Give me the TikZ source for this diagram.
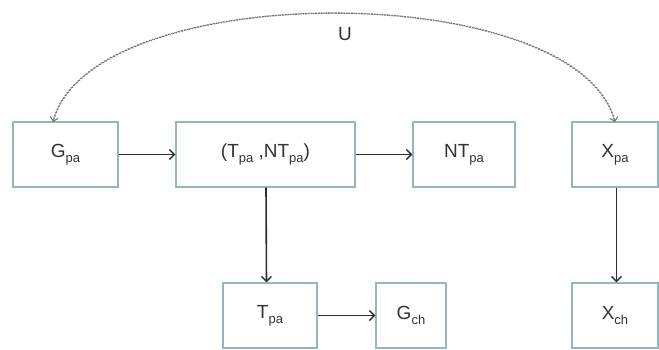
\documentclass[tikz,border=0pt]{standalone}
\usepackage{fontspec}
\setmainfont{Liberation Sans}
\usetikzlibrary{arrows.meta}
\definecolor{boxline}{RGB}{150,182,188}
\definecolor{arrowc}{RGB}{45,45,45}
\begin{document}
\begin{tikzpicture}[x=1pt,y=1pt,
  box/.style={draw=boxline, line width=1.4pt, fill=white, inner sep=0pt, font=\fontsize{19}{22}\selectfont, text=black!80},
  conn/.style={draw=arrowc, line width=1.6pt, -{Straight Barb[length=5pt,width=10pt,line width=1.4pt]}},
  dotc/.style={draw=black!55, line width=1.3pt, dotted, -{Straight Barb[length=4pt,width=8pt,line width=1pt]}}
]
\useasboundingbox (0,0) rectangle (659,350);
\newcommand{\sbs}[1]{\raisebox{-5pt}{\fontsize{13}{15}\selectfont #1}}
\node[box, minimum width=105pt, minimum height=65pt] (gpa) at (65.5,195.5) {G\sbs{pa}};
\node[box, minimum width=179pt, minimum height=65pt] (tnt) at (265.5,195.5) {(T\sbs{pa} ,NT\sbs{pa})};
\node[box, minimum width=102pt, minimum height=65pt] (ntpa) at (464,195.5) {NT\sbs{pa}};
\node[box, minimum width=86pt, minimum height=65pt] (xpa) at (615,195.5) {X\sbs{pa}};
\node[box, minimum width=94pt, minimum height=65pt] (tpa) at (270,34.5) {T\sbs{pa}};
\node[box, minimum width=70pt, minimum height=65pt] (gch) at (411,34.5) {G\sbs{ch}};
\node[box, minimum width=86pt, minimum height=65pt] (xch) at (615,34.5) {X\sbs{ch}};
\node[font=\fontsize{19}{22}\selectfont, text=black!80] (u) at (345,316) {U};
\coordinate (ua) at (53,228);
\coordinate (ub) at (615,228);
\draw[conn] (gpa.east) -- (tnt.west);
\draw[conn] (tnt.east) -- (ntpa.west);
\draw[conn] ([xshift=0.5pt]tnt.south) -- ([xshift=-3.5pt]tpa.north);
\draw[conn] (tpa.east) -- (gch.west);
\draw[conn] ([xshift=1.5pt]xpa.south) -- ([xshift=1.5pt]xch.north);
\draw[dotc] (ub) .. controls (578,373) and (90,373) .. (ua);
\draw[dotc] (ua) .. controls (90,373) and (578,373) .. (ub);
\end{tikzpicture}
\end{document}
